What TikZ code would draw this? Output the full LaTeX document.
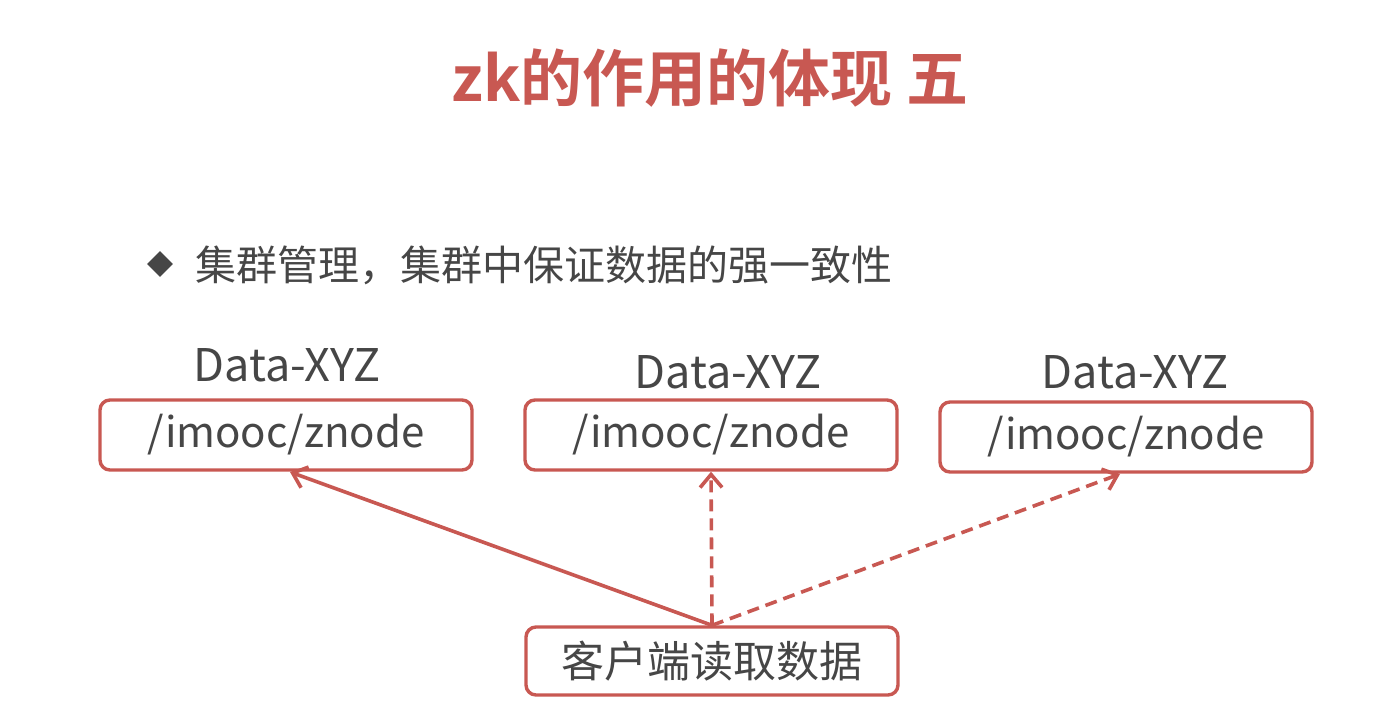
\documentclass[tikz,border=0pt]{standalone}
\usepackage{fontspec}
\setmainfont{Noto Sans CJK SC}
\newfontfamily\cjkbold{Noto Sans CJK SC Bold}
\usetikzlibrary{arrows.meta,shapes.geometric}
\definecolor{accent}{RGB}{200,88,82}
\definecolor{txt}{RGB}{70,70,70}
\tikzset{
  databox/.style={draw=accent, line width=1.7pt, rounded corners=5pt, fill=white,
    minimum width=186pt, minimum height=35pt, inner sep=0pt, text=txt, font=\fontsize{21}{24}\selectfont},
  lbl/.style={text=txt, font=\fontsize{22.5}{26}\selectfont, inner sep=0pt},
  conn/.style={draw=accent, line width=1.8pt, -{Straight Barb[length=6.5pt,width=11pt,line width=1.8pt]}},
  dconn/.style={conn, dash pattern=on 6pt off 3.5pt},
}
\begin{document}
\begin{tikzpicture}[x=0.5pt,y=-0.5pt]
\useasboundingbox (0,0) rectangle (1400,716);
\fill[white] (0,0) rectangle (1400,716);
\node[text=accent, font=\cjkbold\fontsize{31}{35}\selectfont, inner sep=0pt] (title) at (710,78) {zk的作用的体现 五};
\node[diamond, fill=txt, minimum width=13pt, minimum height=13pt, inner sep=0pt] (bullet) at (160,264) {};
\node[anchor=west, text=txt, font=\fontsize{20.5}{24}\selectfont, inner sep=0pt] (point) at (195,265) {集群管理，集群中保证数据的强一致性};
\node[databox] (b1) at (286,435) {/imooc/znode};
\node[databox] (b2) at (711,435) {/imooc/znode};
\node[databox] (b3) at (1126,437) {/imooc/znode};
\node[lbl] (l1) at (287,365) {Data-XYZ};
\node[lbl] (l2) at (728,372) {Data-XYZ};
\node[lbl] (l3) at (1135,372) {Data-XYZ};
\node[databox, minimum height=34pt, font=\fontsize{21.5}{25}\selectfont] (client) at (712,661) {客户端读取数据};
\coordinate (c1) at (290,472);
\coordinate (c3) at (1120,474);
\draw[conn] (client.north) -- (c1);
\draw[dconn] (client.north) -- (b2.south);
\draw[dconn] (client.north) -- (c3);
\end{tikzpicture}
\end{document}
